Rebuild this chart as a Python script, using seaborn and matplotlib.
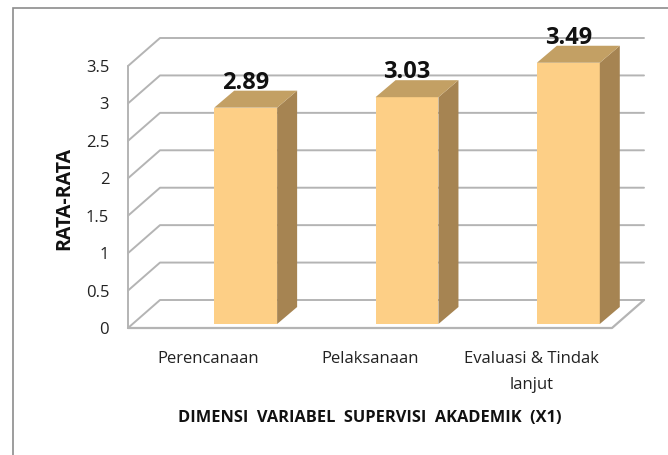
import matplotlib
matplotlib.use("Agg")
import matplotlib.pyplot as plt
import seaborn as sns
from matplotlib.patches import Polygon, Rectangle

# data
categories = ["Perencanaan", "Pelaksanaan", "Evaluasi & Tindak\nlanjut"]
values = [2.89, 3.03, 3.49]
value_labels = ["2.89", "3.03", "3.49"]
y_ticks = [0, 0.5, 1, 1.5, 2, 2.5, 3, 3.5]
y_tick_labels = ["0", "0.5", "1", "1.5", "2", "2.5", "3", "3.5"]

front_col = "#FDCF86"
side_col = "#A68452"
top_col = "#C3A064"
grid_col = "#B4B4B4"

sns.set_theme(style="white")
plt.rcParams["font.family"] = ["Open Sans", "DejaVu Sans"]

W, H = 668, 455
fig = plt.figure(figsize=(W / 100, H / 100), dpi=100)
# front plane of the 3d box, in pixels
left, right, bottom, top = 128, 612, 328, 66
ax = fig.add_axes([left / W, (H - bottom) / H, (right - left) / W, (bottom - top) / H])

sns.barplot(x=categories, y=values, color=front_col, saturation=1, width=0.39,
            edgecolor="none", ax=ax, zorder=3)
ax.set_xlim(-0.5, 2.5)
ax.set_ylim(0, 3.5)

ux = (right - left) / 3.0      # px per x unit
uy = (bottom - top) / 3.5      # px per y unit
wall_dx, wall_dy = 32 / ux, 28 / uy   # depth of back wall
bar_sx, bar_sy = 37 / ux, 4 / uy      # bars sit a little back in the box
dep_x, dep_y = 20 / ux, 17 / uy       # bar depth

# walls and gridlines
x0, x1 = -0.5, 2.5
for t in y_ticks:
    ax.plot([x0, x0 + wall_dx, x1 + wall_dx], [t, t + wall_dy, t + wall_dy],
            color=grid_col, lw=1.4, clip_on=False, zorder=1)
ax.plot([x0, x1, x1 + wall_dx], [0, 0, wall_dy], color=grid_col, lw=1.6,
        clip_on=False, zorder=1)
ax.plot([x0, x0], [0, 3.5], color=grid_col, lw=1.4, clip_on=False, zorder=1)

# 3d bars: shift front faces, then add side and top faces
for i, (p, v) in enumerate(zip(ax.patches, values)):
    p.set_x(p.get_x() + bar_sx)
    p.set_y(bar_sy)
    p.set_clip_on(False)
    a, b = p.get_x(), p.get_x() + p.get_width()
    yb, yt = bar_sy, bar_sy + v
    ax.add_patch(Polygon([(b, yb), (b, yt), (b + dep_x, yt + dep_y), (b + dep_x, yb + dep_y)],
                         closed=True, facecolor=side_col, edgecolor="none", clip_on=False, zorder=3))
    ax.add_patch(Polygon([(a, yt), (b, yt), (b + dep_x, yt + dep_y), (a + dep_x, yt + dep_y)],
                         closed=True, facecolor=top_col, edgecolor="none", clip_on=False, zorder=3))
    ax.text(i + bar_sx, yt + 19 / uy, value_labels[i], ha="center", va="baseline",
            fontsize=17, fontweight="bold", color="#111111", zorder=5)

sns.despine(ax=ax, left=True, bottom=True)
ax.set_yticks(y_ticks)
ax.set_yticklabels(y_tick_labels, fontsize=12, color="#222222")
ax.set_xticks(range(len(categories)))
ax.set_xticklabels(categories, fontsize=12, color="#222222", linespacing=1.8)
ax.tick_params(axis="y", length=0, pad=13.5)
ax.tick_params(axis="x", length=0, pad=16.5)
ax.grid(False)
ax.set_facecolor("none")

ax.set_xlabel("DIMENSI  VARIABEL  SUPERVISI  AKADEMIK  (X1)", fontsize=11.8,
              fontweight="bold", color="#111111", va="center")
ax.xaxis.set_label_coords(0.5, (bottom - 418) / (bottom - top))
ax.set_ylabel("RATA-RATA", fontsize=14, fontweight="bold", color="#111111", va="center")
ax.yaxis.set_label_coords((64 - left) / (right - left), (bottom - 198) / (bottom - top))

# chart frame, cut off at right and bottom like the source
fig.add_artist(Rectangle((13 / W, -0.1), 1.2, (H - 8) / H + 0.1, transform=fig.transFigure,
                         fill=False, edgecolor="#8C8C8C", lw=1.2))

fig.savefig("out.png", dpi=100)
